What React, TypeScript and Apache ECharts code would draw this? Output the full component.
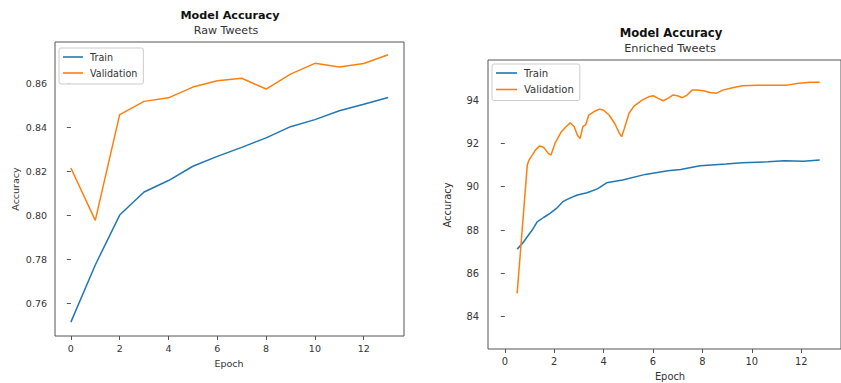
import React, { useEffect, useRef } from "react";
import * as echarts from "echarts";

// ---- Raw Tweets (left) ----
const rawEpochs = [0, 1, 2, 3, 4, 5, 6, 7, 8, 9, 10, 11, 12, 13];
const rawTrain = [0.7514, 0.7774, 0.8001, 0.8106, 0.8158, 0.8223, 0.8268, 0.8309, 0.8352, 0.8403, 0.8435, 0.8475, 0.8505, 0.8536];
const rawVal = [0.8215, 0.7977, 0.8458, 0.8518, 0.8534, 0.8583, 0.8612, 0.8623, 0.8574, 0.8642, 0.8691, 0.8674, 0.869, 0.873];
const rawXTicks = [0, 2, 4, 6, 8, 10, 12];
const rawYTicks = [0.76, 0.78, 0.8, 0.82, 0.84, 0.86];

// ---- Enriched Tweets (right) ----
const enrTrainEpochs = [0.5, 0.72, 0.91, 1.11, 1.31, 1.57, 1.83, 2.09, 2.35, 2.61, 2.94, 3.33, 3.75, 4.12, 4.77, 5.69, 6.6, 7.12, 7.91, 8.95, 9.61, 10.65, 11.31, 12.09, 12.75];
const enrTrain = [87.12, 87.39, 87.69, 88.0, 88.38, 88.58, 88.77, 89.0, 89.31, 89.46, 89.62, 89.72, 89.9, 90.18, 90.31, 90.57, 90.74, 90.8, 90.97, 91.05, 91.11, 91.15, 91.2, 91.18, 91.23];
const enrValEpochs = [0.5, 0.91, 0.98, 1.24, 1.4, 1.57, 1.76, 1.87, 2.03, 2.29, 2.48, 2.65, 2.81, 2.94, 3.05, 3.16, 3.27, 3.4, 3.6, 3.83, 3.99, 4.22, 4.45, 4.64, 4.73, 4.84, 5.03, 5.23, 5.56, 5.82, 6.01, 6.21, 6.41, 6.6, 6.8, 6.99, 7.19, 7.38, 7.58, 7.78, 8.04, 8.3, 8.56, 8.82, 9.22, 9.61, 10.26, 10.92, 11.44, 11.83, 12.35, 12.75];
const enrVal = [85.08, 91.0, 91.23, 91.69, 91.88, 91.82, 91.54, 91.46, 92.0, 92.54, 92.77, 92.95, 92.77, 92.38, 92.23, 92.77, 92.85, 93.31, 93.46, 93.58, 93.54, 93.31, 92.92, 92.46, 92.31, 92.69, 93.39, 93.72, 94.0, 94.15, 94.2, 94.08, 93.97, 94.08, 94.23, 94.2, 94.11, 94.23, 94.46, 94.46, 94.43, 94.35, 94.31, 94.46, 94.57, 94.66, 94.69, 94.69, 94.69, 94.77, 94.82, 94.82];
const enrXTicks = [0, 2, 4, 6, 8, 10, 12];
const enrYTicks = [84, 86, 88, 90, 92, 94];

const BLUE = "#1f77b4";
const ORANGE = "#ff7f0e";
const FONT = "DejaVu Sans";
const FRAME = "#555";
const TEXT = "#333";

const zip = (xs: number[], ys: number[]) => xs.map((x, i) => [x, ys[i]]);

export default function App() {
  const ref = useRef<HTMLDivElement>(null);
  useEffect(() => {
    if (!ref.current) return;
    const chart = echarts.init(ref.current, null, { renderer: "svg" });

    const xAxisCommon = (fs: number, ticks: number[]) => ({
      type: "value",
      splitLine: { show: false },
      axisLine: { show: false },
      axisTick: { show: true, inside: false, length: 4, lineStyle: { color: FRAME, width: 1 }, customValues: ticks },
      axisLabel: { show: true, color: TEXT, fontFamily: FONT, fontSize: fs, margin: 7, customValues: ticks },
    });
    const yAxisCommon = (fs: number, ticks: number[], fmt: (v: number) => string, margin: number) => ({
      type: "value",
      splitLine: { show: false },
      axisLine: { show: false },
      axisTick: { show: true, inside: false, length: 4, lineStyle: { color: FRAME, width: 1 }, customValues: ticks },
      axisLabel: { show: true, color: TEXT, fontFamily: FONT, fontSize: fs, margin, customValues: ticks, formatter: fmt },
    });

    const legendCommon = (left: number, top: number, fs: number, iw: number, pad: number[], gap: number) => ({
      left,
      top,
      orient: "vertical",
      data: [
        { name: "Train", icon: "rect" },
        { name: "Validation", icon: "rect" },
      ],
      itemWidth: iw,
      itemHeight: 1.6,
      itemGap: gap,
      padding: pad,
      backgroundColor: "rgba(255,255,255,0.8)",
      borderColor: "#cccccc",
      borderWidth: 1,
      borderRadius: 2,
      textStyle: { fontFamily: FONT, fontSize: fs, color: TEXT, lineHeight: 12, padding: [0, 0, 0, 2] },
      selectedMode: false,
    });

    const textEl = (text: string, x: number, y: number, fs: number, bold = false, rot = 0) => ({
      type: "text",
      x,
      y,
      rotation: rot,
      style: {
        text,
        fill: bold ? "#111" : TEXT,
        font: `${bold ? "bold " : ""}${fs}px ${FONT}`,
        textAlign: "center",
        textVerticalAlign: "middle",
      },
    });

    chart.setOption({
      animation: false,
      backgroundColor: "#ffffff",
      grid: [
        { left: 55, top: 42, width: 349, height: 294, show: true, borderColor: FRAME, borderWidth: 1, backgroundColor: "transparent" },
        { left: 488, top: 60, width: 364, height: 289, show: true, borderColor: FRAME, borderWidth: 1, backgroundColor: "transparent" },
      ],
      xAxis: [
        { ...xAxisCommon(9.5, rawXTicks), gridIndex: 0, min: -0.65, max: 13.65 },
        { ...xAxisCommon(9.9, enrXTicks), gridIndex: 1, min: -0.68, max: 13.61 },
      ],
      yAxis: [
        { ...yAxisCommon(9.5, rawYTicks, (v: number) => v.toFixed(2), 8), gridIndex: 0, min: 0.7451, max: 0.8788 },
        { ...yAxisCommon(9.9, enrYTicks, (v: number) => String(Math.round(v)), 9), gridIndex: 1, min: 82.51, max: 95.85 },
      ],
      legend: [
        legendCommon(59, 48, 9.6, 20, [3, 6, 5, 4], 4),
        legendCommon(492, 64, 10.1, 21, [3, 6, 5, 4], 4.5),
      ],
      graphic: [
        textEl("Model Accuracy", 230, 15, 11.2, true),
        textEl("Raw Tweets", 226, 30, 11.1),
        textEl("Model Accuracy", 671, 33, 11.6, true),
        textEl("Enriched Tweets", 670, 48, 11.3),
        textEl("Epoch", 229, 363, 9.5),
        textEl("Epoch", 670, 376, 9.9),
        textEl("Accuracy", 15, 189, 9.5, false, Math.PI / 2),
        textEl("Accuracy", 447, 205, 9.9, false, Math.PI / 2),
      ],
      series: [
        { name: "Train", type: "line", xAxisIndex: 0, yAxisIndex: 0, data: zip(rawEpochs, rawTrain), symbol: "none", lineStyle: { color: BLUE, width: 1.5 }, itemStyle: { color: BLUE } },
        { name: "Validation", type: "line", xAxisIndex: 0, yAxisIndex: 0, data: zip(rawEpochs, rawVal), symbol: "none", lineStyle: { color: ORANGE, width: 1.5 }, itemStyle: { color: ORANGE } },
        { name: "Train", type: "line", xAxisIndex: 1, yAxisIndex: 1, data: zip(enrTrainEpochs, enrTrain), symbol: "none", lineStyle: { color: BLUE, width: 1.5 }, itemStyle: { color: BLUE } },
        { name: "Validation", type: "line", xAxisIndex: 1, yAxisIndex: 1, data: zip(enrValEpochs, enrVal), symbol: "none", lineStyle: { color: ORANGE, width: 1.5 }, itemStyle: { color: ORANGE } },
      ],
    });
    return () => chart.dispose();
  }, []);
  return <div ref={ref} style={{ position: "fixed", left: 0, top: 0, width: 841, height: 383 }} />;
}
